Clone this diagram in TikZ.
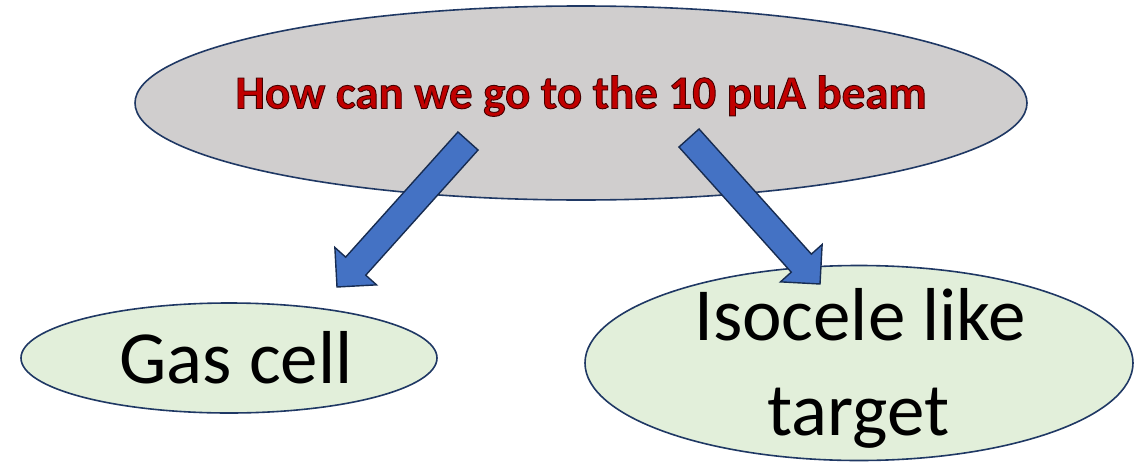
\documentclass[tikz,border=0pt]{standalone}
\usepackage{fontspec}
\setmainfont{Carlito}
\usetikzlibrary{calc,shapes.geometric}
\definecolor{outlinenavy}{HTML}{1F3864}
\definecolor{topfill}{HTML}{D0CECE}
\definecolor{leaffill}{HTML}{E2EFDA}
\definecolor{arrowblue}{HTML}{4472C4}
\definecolor{arrowedge}{HTML}{172C51}
\definecolor{titlered}{HTML}{C00000}
% glyphs filled and stroked with a thin dark outline
\newcommand\strokedtext[1]{%
  \special{pdf:literal q 2 Tr 0.9 w 0.25 0 0 RG}#1\special{pdf:literal Q}}
\tikzset{
  topoval/.style={ellipse, draw=outlinenavy, line width=1.6pt, fill=topfill, inner sep=0pt},
  leafoval/.style={ellipse, draw=outlinenavy, line width=1.6pt, fill=leaffill, inner sep=0pt},
  leaftext/.style={font=\fontsize{75}{95}\selectfont, anchor=base, inner sep=0pt},
  blockarrow/.style={draw=arrowedge, line width=1.4pt, fill=arrowblue, line join=miter},
  titletext/.style={font=\bfseries\fontsize{47}{56}\selectfont, text=titlered, inner sep=0pt},
}
% block arrow from tail centre #1 to tip #2
\newcommand\blockarrowpath[2]{%
  \coordinate (hb) at ($(#2)!28pt!(#1)$);
  \draw[blockarrow]
    ($(#1)!13.5pt!90:(#2)$) -- ($(hb)!13.5pt!90:(#2)$) -- ($(hb)!28pt!90:(#2)$) --
    (#2) --
    ($(hb)!28pt!-90:(#2)$) -- ($(hb)!13.5pt!-90:(#2)$) --
    ($(#1)!13.5pt!-90:(#2)$) -- cycle;
}
\begin{document}
\begin{tikzpicture}[x=1pt,y=-1pt]
  \useasboundingbox (0,0) rectangle (1140,466);

  % question oval
  \node[topoval, minimum width=892pt, minimum height=194pt] (question) at (581,103) {};
  \node[titletext] (title) at (581,96) {\strokedtext{How can we go to the 10 puA beam}};

  % answer ovals
  \node[leafoval, minimum width=416pt, minimum height=110pt] (gas) at (229,358) {};
  \node[leaftext] (gaslabel) at (236,383) {Gas cell};
  \node[leafoval, minimum width=548pt, minimum height=195pt] (isocele) at (859,363) {};
  \node[leaftext] (isolabel1) at (860,340) {Isocele like};
  \node[leaftext] (isolabel2) at (858,435) {target};

  % arrows from the question to the answers
  \coordinate (ltail) at (468,141);
  \coordinate (ltip) at (337,287);
  \coordinate (rtail) at (689,138);
  \coordinate (rtip) at (820,284);
  \blockarrowpath{ltail}{ltip}
  \blockarrowpath{rtail}{rtip}
\end{tikzpicture}
\end{document}
